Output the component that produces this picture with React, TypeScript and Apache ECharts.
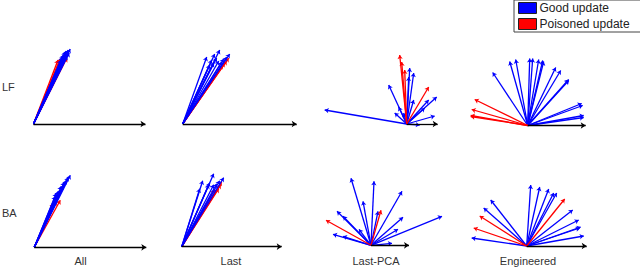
import React, { useEffect, useRef } from 'react';
import * as echarts from 'echarts';

const rowLabels = ['LF', 'BA'];
const colLabels = ['All', 'Last', 'Last-PCA', 'Engineered'];
const legendNames = ['Good update', 'Poisoned update'];

// reference direction (black arrow) length for each panel
const lfAxisLen = [112, 114, 31, 58];
const baAxisLen = [112, 100, 38, 60];

// update vectors [dx, dy] per panel
const lfAllGood = [[36.7, 75], [34.7, 74], [31.7, 72], [32.7, 70], [29.7, 69], [33.7, 68], [28.7, 67], [30.7, 66], [35.7, 71], [27.5, 64], [32.7, 73], [31, 69], [34, 72]];
const lfAllPoisoned = [[24.5, 64], [33.4, 66], [26.5, 65]];

const lfLastGood = [[24, 67], [37, 74], [32, 70], [47, 70], [44, 67], [41, 65], [36, 63], [31, 61], [27, 59], [39, 62], [34, 66], [29, 64]];
const lfLastPoisoned = [[46, 66], [44, 63], [42, 61], [40, 59]];

const lfPcaGood = [[-82, 14], [-18, 39], [3, 56], [7, 51], [2, 47], [30, 27], [22, 24], [7, 24], [28, 8], [-8, 17], [-12, 11], [13, -1], [-3, 11], [18, 16]];
const lfPcaPoisoned = [[-7, 69], [-5, 62], [-2, 54], [22, 37]];

const lfEngGood = [[-35, 53], [-18, 64], [-12, 66], [2, 67], [5, 67], [11, 66], [15, 65], [16, 64], [28, 58], [33, 55], [41, 46], [41, 45], [54, 22], [55, 20], [56, 10], [56, 8]];
const lfEngPoisoned = [[-53, 26], [-56, 16], [-57, 10], [-57, 9]];

const baAllGood = [[36, 72], [34, 70], [30, 65], [27, 61], [26, 57], [22, 54], [29, 62], [24, 56], [21, 51], [32, 67]];
const baAllPoisoned = [[26, 47], [22, 46], [19, 44]];

const baLastGood = [[21, 66], [32, 73], [42, 69], [38, 66], [28, 64], [27, 62], [32, 62], [18, 58], [35, 63]];
const baLastPoisoned = [[40, 65], [39, 62], [37, 58], [33, 57]];

const baPcaGood = [[-20, 67], [3, 64], [31, 54], [-8, 44], [-34, 34], [-28, 29], [71, 29], [32, 28], [27, 16], [-38, 11], [-28, 9], [21, 2], [-12, 16], [7, 34]];
const baPcaPoisoned = [[10, 35], [-45, 25]];

const baEngGood = [[4, 61], [13, 59], [22, 57], [27, 53], [30, 53], [-36, 46], [-43, 38], [46, 36], [52, 26], [54, 19], [53, 18], [-55, 8], [57, 10]];
const baEngPoisoned = [[38, 47], [-47, 30], [-53, 18]];

const goodSets = [lfAllGood, lfLastGood, lfPcaGood, lfEngGood, baAllGood, baLastGood, baPcaGood, baEngGood];
const poisonedSets = [lfAllPoisoned, lfLastPoisoned, lfPcaPoisoned, lfEngPoisoned, baAllPoisoned, baLastPoisoned, baPcaPoisoned, baEngPoisoned];
const axisLens = [...lfAxisLen, ...baAxisLen];

// layout: pixel origin of each panel
const panelOrigins = [[33.5, 124], [182.7, 124], [406.7, 124], [527.7, 125.5], [34.3, 247.3], [181.7, 246.7], [371, 245.3], [526.7, 246]];
// in the first two columns the poisoned updates lie beneath the good ones
const poisonedOnTop = [false, false, true, true, false, false, true, true];

const BLUE = '#0000ff';
const RED = '#ff0000';
const FONT = 'Arial, "Liberation Sans", Helvetica, sans-serif';

export default function App() {
  const ref = useRef<HTMLDivElement>(null);
  useEffect(() => {
    document.body.style.margin = '0';
    const chart = echarts.init(ref.current!, null, { renderer: 'svg' });
    const grid: any[] = [];
    const xAxis: any[] = [];
    const yAxis: any[] = [];
    const series: any[] = [];
    panelOrigins.forEach(([ox, oy], i) => {
      const L = Math.min(90, ox - 0.5);
      const R = Math.min(115, 639.5 - ox);
      const T = 100;
      const B = 10;
      grid.push({ left: ox - L, top: oy - T, width: L + R, height: T + B });
      xAxis.push({ type: 'value', gridIndex: i, min: -L, max: R, show: false, splitLine: { show: false } });
      yAxis.push({ type: 'value', gridIndex: i, min: -B, max: T, show: false, splitLine: { show: false } });
      const mk = (arr: number[][]) => arr.map(([dx, dy]) => ({ coords: [[0, 0], [dx, dy]] }));
      const good = {
        type: 'lines', name: legendNames[0], coordinateSystem: 'cartesian2d', xAxisIndex: i, yAxisIndex: i,
        data: mk(goodSets[i]), symbol: ['none', 'arrow'], symbolSize: 4, clip: false,
        lineStyle: { color: BLUE, width: 1.3, opacity: 1 }, itemStyle: { color: BLUE }, silent: true,
      };
      const bad = {
        type: 'lines', name: legendNames[1], coordinateSystem: 'cartesian2d', xAxisIndex: i, yAxisIndex: i,
        data: mk(poisonedSets[i]), symbol: ['none', 'arrow'], symbolSize: 4, clip: false,
        lineStyle: { color: RED, width: 1.3, opacity: 1 }, itemStyle: { color: RED }, silent: true,
      };
      if (poisonedOnTop[i]) series.push(good, bad); else series.push(bad, good);
      series.push({
        type: 'lines', name: 'reference', coordinateSystem: 'cartesian2d', xAxisIndex: i, yAxisIndex: i,
        data: [{ coords: [[0, 0], [axisLens[i], 0]] }], symbol: ['none', 'arrow'], symbolSize: 5, clip: false,
        lineStyle: { color: '#000', width: 1.3, opacity: 1 }, silent: true,
      });
    });
    const colX = [80.5, 231, 376, 528];
    const graphic: any[] = [
      ...rowLabels.map((t, r) => ({
        type: 'text', x: 2, y: r === 0 ? 87 : 212.5,
        style: { text: t, fontSize: 11, fontFamily: FONT, fill: '#333', verticalAlign: 'middle' },
      })),
      ...colLabels.map((t, c) => ({
        type: 'text', x: colX[c], y: 261,
        style: { text: t, fontSize: 11, fontFamily: FONT, fill: '#333', align: 'center', verticalAlign: 'middle' },
      })),
    ];
    chart.setOption({
      animation: false,
      backgroundColor: '#fff',
      grid, xAxis, yAxis, series, graphic,
      legend: {
        orient: 'vertical', left: 514, top: 0,
        data: [
          { name: legendNames[0], icon: 'rect', itemStyle: { color: BLUE, borderColor: '#222', borderWidth: 1 } },
          { name: legendNames[1], icon: 'rect', itemStyle: { color: RED, borderColor: '#222', borderWidth: 1 } },
        ],
        itemWidth: 18, itemHeight: 11, itemGap: 4,
        padding: [2, 14, 2, 4],
        borderColor: '#444', borderWidth: 1,
        selectedMode: false,
        textStyle: { fontSize: 12, fontFamily: FONT, color: '#222', padding: [0, 0, 0, -2] },
      },
    });
    return () => chart.dispose();
  }, []);
  return <div ref={ref} style={{ width: 640, height: 268 }} />;
}
